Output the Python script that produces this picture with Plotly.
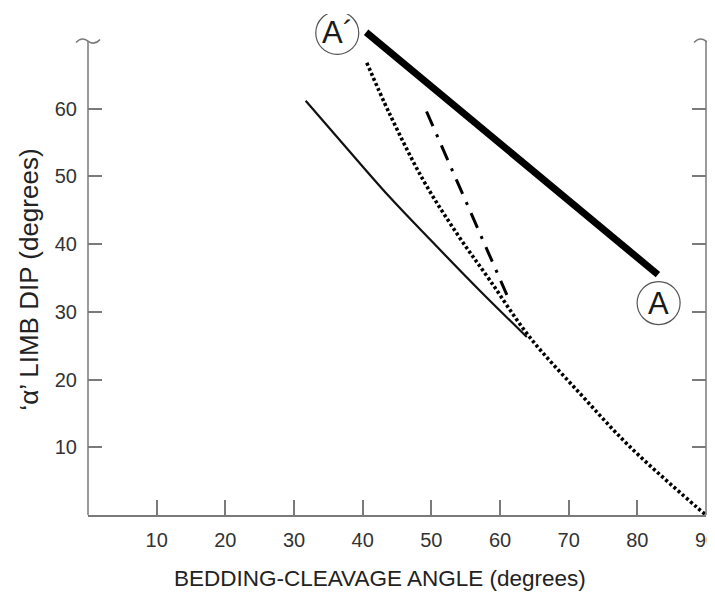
import plotly.graph_objects as go

# ---------------- data ----------------
x_ticks = [10, 20, 30, 40, 50, 60, 70, 80, 90]
y_ticks = [10, 20, 30, 40, 50, 60]

thick_x = [40.5, 83.0]
thick_y = [71.3, 35.5]

thin_x = [31.7, 37.5, 43.9, 50.0, 57.0, 63.9]
thin_y = [61.2, 54.4, 47.0, 40.5, 33.2, 26.3]

dotted_x = [40.6, 43.9, 48.8, 53.7, 58.5, 64.3, 71.6, 78.9, 88.6, 90.0]
dotted_y = [66.8, 59.3, 49.5, 41.6, 34.7, 26.3, 18.0, 10.1, 1.2, 0.0]

dashdot_x = [49.3, 61.0]
dashdot_y = [59.6, 32.5]

label_text = ["A\u00b4", "A"]
label_x = [36.3, 83.1]
label_y = [71.2, 31.3]

axis_top = 70.0
x_range = [0, 90]
y_range = [0, 74]

FONT = "Liberation Sans, Arial, sans-serif"
GREY = "#7a7a7a"

fig = go.Figure()

fig.add_trace(go.Scatter(x=thick_x, y=thick_y, mode="lines",
                         line=dict(color="black", width=7), hoverinfo="skip"))
fig.add_trace(go.Scatter(x=thin_x, y=thin_y, mode="lines",
                         line=dict(color="#111111", width=2.2, shape="spline"), hoverinfo="skip"))
fig.add_trace(go.Scatter(x=dotted_x, y=dotted_y, mode="lines",
                         line=dict(color="black", width=3.6, dash="3px,2.5px", shape="spline"),
                         hoverinfo="skip"))
fig.add_trace(go.Scatter(x=dashdot_x, y=dashdot_y, mode="lines",
                         line=dict(color="black", width=3, dash="16px,9px,3px,9px"),
                         hoverinfo="skip"))

shapes = []
# vertical axis lines (left and right) ending at the break
for xp in (0, 1):
    shapes.append(dict(type="line", xref="paper", yref="y", x0=xp, x1=xp, y0=0, y1=axis_top,
                       line=dict(color=GREY, width=1.5), layer="above"))
    # axis-break tilde
    shapes.append(dict(type="path", xref="paper", yref="y", xsizemode="pixel", ysizemode="pixel",
                       xanchor=xp, yanchor=axis_top,
                       path="M -12,-1.5 C -8,3 -4,3 0,0 C 4,-3 8,-3 12,1.5",
                       line=dict(color=GREY, width=1.5), layer="above"))

annotations = []
for t, lx, ly in zip(label_text, label_x, label_y):
    shapes.append(dict(type="circle", xref="x", yref="y", xsizemode="pixel", ysizemode="pixel",
                       xanchor=lx, yanchor=ly, x0=-21.5, x1=21.5, y0=-21.5, y1=21.5,
                       line=dict(color="#555555", width=1.2), fillcolor="white"))
    annotations.append(dict(x=lx, y=ly, xref="x", yref="y", text=t, showarrow=False,
                            font=dict(family=FONT, size=31, color="#1a1a1a"),
                            xanchor="center", yanchor="middle"))

annotations.append(dict(x=0.4725, y=-0.126, xref="paper", yref="paper",
                        text="BEDDING-CLEAVAGE ANGLE (degrees)", showarrow=False,
                        font=dict(family=FONT, size=22.5, color="#222222"),
                        xanchor="center", yanchor="middle"))
annotations.append(dict(x=-0.097, y=0.47, xref="paper", yref="paper",
                        text="\u2018\u03b1\u2019 LIMB DIP (degrees)", showarrow=False, textangle=-90,
                        font=dict(family=FONT, size=26, color="#222222"),
                        xanchor="center", yanchor="middle"))

# the page body adds an 8px offset, so the figure is sized/margined to compensate
fig.update_layout(
    width=707, height=585,
    margin=dict(l=80, r=9, t=6, b=78),
    paper_bgcolor="white", plot_bgcolor="white",
    showlegend=False,
    shapes=shapes, annotations=annotations,
    xaxis=dict(range=x_range, tickvals=x_ticks, ticktext=[str(v) for v in x_ticks],
               ticks="inside", ticklen=15, tickwidth=1.5, tickcolor=GREY,
               showline=True, linecolor=GREY, linewidth=1.5, automargin=False,
               ticklabeloverflow="allow",
               showgrid=False, zeroline=False, ticklabelstandoff=6,
               tickfont=dict(family=FONT, size=20, color="#333333")),
    yaxis=dict(range=y_range, tickvals=y_ticks, ticktext=[str(v) for v in y_ticks],
               ticks="inside", ticklen=14, tickwidth=1.5, tickcolor=GREY,
               showline=False, mirror="ticks", automargin=False,
               showgrid=False, zeroline=False, ticklabelstandoff=10,
               tickfont=dict(family=FONT, size=20, color="#333333")),
)

fig.write_html("out.html")
